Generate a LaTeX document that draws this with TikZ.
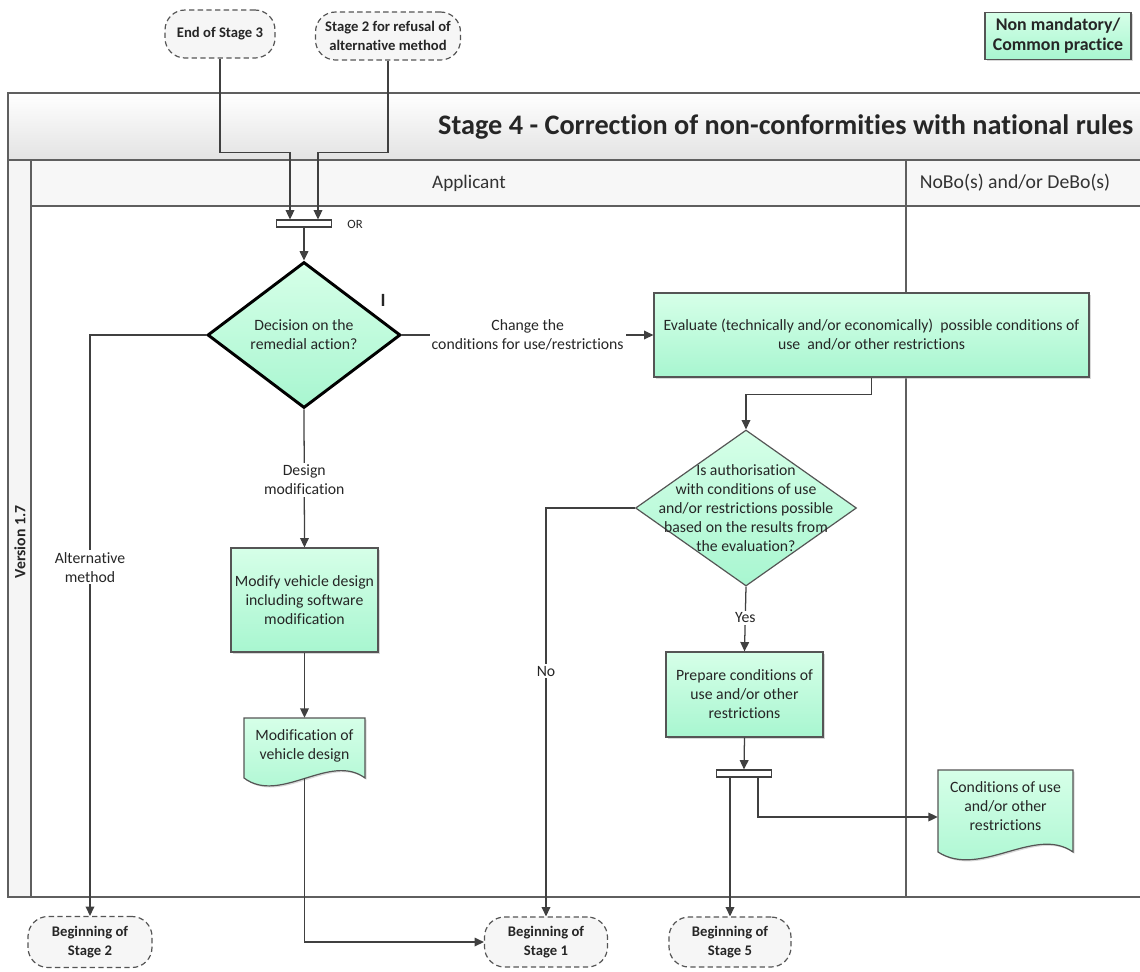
\documentclass[tikz,border=0pt]{standalone}
\usepackage{fontspec}
\setmainfont[Ligatures=NoCommon]{Carlito}
\usetikzlibrary{shapes.geometric,arrows.meta,shadows,calc}
\definecolor{gtop}{RGB}{214,255,232}
\definecolor{gbot}{RGB}{168,246,208}
\definecolor{bord}{RGB}{85,85,85}
\definecolor{ln}{RGB}{64,64,64}
\definecolor{txt}{RGB}{38,38,38}
\definecolor{tfill}{RGB}{246,246,246}
\definecolor{pline}{RGB}{95,95,95}
\tikzset{
  every node/.style={font=\fontsize{11.8}{14.25}\selectfont, text=txt},
  proc/.style={draw=bord, line width=0.9pt, top color=gtop, bottom color=gbot, align=center, inner sep=0pt,
    drop shadow={shadow xshift=1.2pt, shadow yshift=-1.2pt, fill=black!30, opacity=0.5}},
  docfill/.style={draw=bord, line width=0.9pt, top color=gtop, bottom color=gbot},
  txtbox/.style={align=center, inner sep=0pt},
  term/.style={draw=bord, dash pattern=on 4pt off 2.5pt, line width=0.9pt, rounded corners=15pt, fill=tfill,
    align=center, inner sep=0pt, font=\bfseries\fontsize{11}{14}\selectfont},
  arr/.style={draw=ln, line width=0.95pt, -{Triangle[length=7pt,width=6.5pt]}},
  lbl/.style={fill=white, inner sep=1.5pt, align=center},
  bar/.style={draw=ln, line width=0.8pt, fill=white, minimum width=55*0.75pt, minimum height=7*0.75pt, inner sep=0pt},
}
\begin{document}
\begin{tikzpicture}[x=0.75pt,y=-0.75pt]
\useasboundingbox (0,0) rectangle (1140,972);
% ---------- pool ----------
\path[top color=white, bottom color=black!11] (8,93) rectangle (1150,160);
\fill[black!4] (8,160) rectangle (31,897);
\fill[black!3] (31,160) rectangle (1150,206);
\draw[pline, line width=1pt] (8,93) rectangle (1150,897);
\draw[pline, line width=1pt] (8,160) -- (1150,160);
\draw[pline, line width=1pt] (31,160) -- (31,897);
\draw[pline, line width=1pt] (31,206) -- (1150,206);
\draw[pline, line width=1pt] (906,160) -- (906,897);
\node[anchor=east, font=\bfseries\fontsize{21.2}{24}\selectfont, text=black!85] (title) at (1138,127) {Stage 4 - Correction of non-conformities with national rules};
\node[rotate=90, font=\bfseries\fontsize{11.8}{13}\selectfont, text=black!85] (ver) at (20,542) {Version 1.7};
\node[font=\fontsize{14.4}{16}\selectfont, text=black!80] (lapp) at (469,183) {Applicant};
\node[font=\fontsize{14.8}{16}\selectfont, text=black!80] (lnobo) at (1015,183) {NoBo(s) and/or DeBo(s)};
% ---------- legend ----------
\node[proc, minimum width=146*0.75pt, minimum height=47*0.75pt, font=\bfseries\fontsize{13.4}{15}\selectfont] (legend) at (1058,36) {Non mandatory/\\Common practice};
% ---------- terminators ----------
\node[term, minimum width=110*0.75pt, minimum height=48*0.75pt] (end3) at (220,34) {End of Stage 3};
\node[term, minimum width=145*0.75pt, minimum height=48*0.75pt] (st2) at (388,36) {Stage 2 for refusal of\\alternative method};
\node[term, minimum width=124*0.75pt, minimum height=51*0.75pt] (beg2) at (90,942) {Beginning of\\Stage 2};
\node[term, minimum width=123*0.75pt, minimum height=50*0.75pt] (beg1) at (546,942) {Beginning of\\Stage 1};
\node[term, minimum width=122*0.75pt, minimum height=50*0.75pt] (beg5) at (730,942) {Beginning of\\Stage 5};
% ---------- bars ----------
\node[bar] (or1) at (304,223.5) {};
\node[font=\fontsize{9.5}{11}\selectfont] (ortxt) at (355,224) {OR};
\node[bar] (or2) at (744,773.5) {};
% ---------- decision 1 ----------
\node[diamond, draw=black, line width=2.2pt, top color=gtop, bottom color=gbot, minimum width=193*0.75pt, minimum height=146*0.75pt, inner sep=0pt] (d1) at (304,335) {};
\node[txtbox] (d1t) at (304,335) {Decision on the\\remedial action?};
\node[font=\bfseries\fontsize{14}{16}\selectfont] (imark) at (383,300) {I};
% ---------- boxes ----------
\node[proc, minimum width=435*0.75pt, minimum height=84*0.75pt] (eval) at (871.5,335) {Evaluate (technically and/or economically)\ \ possible conditions of\\use\ \ and/or other restrictions};
\node[proc, minimum width=147*0.75pt, minimum height=104*0.75pt] (mod) at (304.5,600) {Modify vehicle design\\including software\\modification};
\node[diamond, draw=bord, line width=0.9pt, top color=gtop, bottom color=gbot, minimum width=221*0.75pt, minimum height=156*0.75pt, inner sep=0pt] (d2) at (746,508) {};
\node[txtbox] (d2t) at (746,508) {Is authorisation\\with conditions of use\\and/or restrictions possible\\based on the results from\\the evaluation?};
\node[proc, minimum width=157*0.75pt, minimum height=85*0.75pt] (prep) at (744.5,694.5) {Prepare conditions of\\use and/or other\\restrictions};
% ---------- documents ----------
\path[docfill, drop shadow={shadow xshift=1.2pt, shadow yshift=-1.2pt, fill=black!30, opacity=0.5}] (244,718) -- (365,718) -- (365,778) .. controls (330,752) and (280,805) .. (244,778) -- cycle;
\node[txtbox, minimum width=121*0.75pt, minimum height=60*0.75pt] (docA) at (304.5,748) {};
\node[txtbox] (docAt) at (304.5,745.5) {Modification of\\vehicle design};
\path[docfill, drop shadow={shadow xshift=1.2pt, shadow yshift=-1.2pt, fill=black!30, opacity=0.5}] (938,770) -- (1073,770) -- (1073,852) .. controls (1035,825) and (980,879) .. (938,852) -- cycle;
\node[txtbox, minimum width=135*0.75pt, minimum height=94*0.75pt] (cond) at (1005.5,817) {};
\node[txtbox] (condt) at (1005.5,806) {Conditions of use\\and/or other\\restrictions};
% ---------- connectors ----------
\draw[arr] (end3.south) -- ++(0,94) -| ($(or1.north)+(-14,0)$);
\draw[arr] (st2.south) -- ++(0,92) -| ($(or1.north)+(14,0)$);
\draw[arr] (or1.south) -- (d1.north);
\draw[arr] (d1.west) -| node[lbl, pos=0.7] {Alternative\\method} (beg2.north);
\draw[arr] (d1.east) -- node[lbl] {Change the\\conditions for use/restrictions} (eval.west);
\draw[arr] (d1.south) -- node[lbl, pos=0.51] {Design\\modification} (mod.north);
\draw[arr] (mod.south) -- (docA.north);
\draw[arr] (docA.south) |- (beg1.west);
\draw[arr] (eval.south) -- ++(0,17) -| (d2.north);
\draw[arr] (d2.west) -| node[lbl, pos=0.7] {No} (beg1.north);
\draw[arr] (d2.south) -- node[lbl, pos=0.48] {Yes} (prep.north);
\draw[arr] (prep.south) -- (or2.north);
\draw[arr] ($(or2.south)+(-14,0)$) -- (beg5.north);
\draw[arr] ($(or2.south)+(14,0)$) |- (cond.west);
\end{tikzpicture}
\end{document}
